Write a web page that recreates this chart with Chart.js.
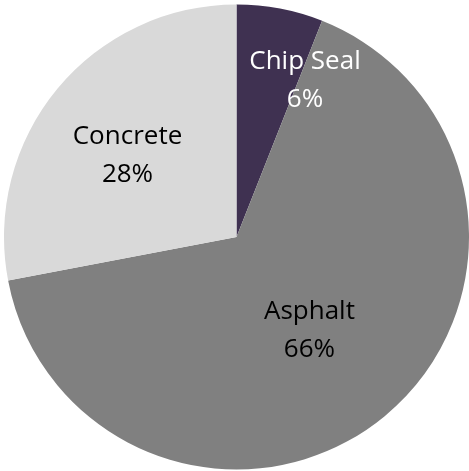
<!DOCTYPE html>
<html>
<head>
<meta charset="utf-8">
<script src="https://cdn.jsdelivr.net/npm/chart.js@4"></script>
<style>
  html, body { margin: 0; padding: 0; background: #fff; }
  #wrap { width: 469px; height: 471px; }
</style>
</head>
<body>
<div id="wrap"><canvas id="pie"></canvas></div>
<script>
const categories = ['Chip Seal', 'Asphalt', 'Concrete'];
const shares = [6, 66, 28];
const sliceColors = ['#3f3151', '#808080', '#d9d9d9'];
const labelColors = ['#ffffff', '#000000', '#000000'];
// where each label sits: angle (deg clockwise from top) and fraction of radius
const labelSpots = [[23.7, 0.733], [142.2, 0.512], [306.6, 0.584]];

const pieLabels = {
    id: 'pieLabels',
    afterDatasetsDraw(chart) {
        const ctx = chart.ctx;
        const arcs = chart.getDatasetMeta(0).data;
        ctx.save();
        ctx.font = '26px "Open Sans"';
        ctx.textAlign = 'center';
        ctx.textBaseline = 'middle';
        arcs.forEach((arc, i) => {
            const a = (labelSpots[i][0] - 90) * Math.PI / 180;
            const r = arc.outerRadius * labelSpots[i][1];
            const x = arc.x + r * Math.cos(a);
            const y = arc.y + r * Math.sin(a);
            ctx.fillStyle = labelColors[i];
            ctx.fillText(categories[i], x, y - 19);
            ctx.fillText(shares[i] + '%', x, y + 19);
        });
        ctx.restore();
    }
};

new Chart(document.getElementById('pie'), {
    type: 'pie',
    data: {
        labels: categories,
        datasets: [{
            data: shares,
            backgroundColor: sliceColors,
            borderWidth: 0
        }]
    },
    options: {
        responsive: true,
        maintainAspectRatio: false,
        animation: false,
        layout: { padding: { left: 4, top: 3, right: 0, bottom: 0 } },
        plugins: {
            legend: { display: false },
            tooltip: { enabled: false }
        }
    },
    plugins: [pieLabels]
});
</script>
</body>
</html>
